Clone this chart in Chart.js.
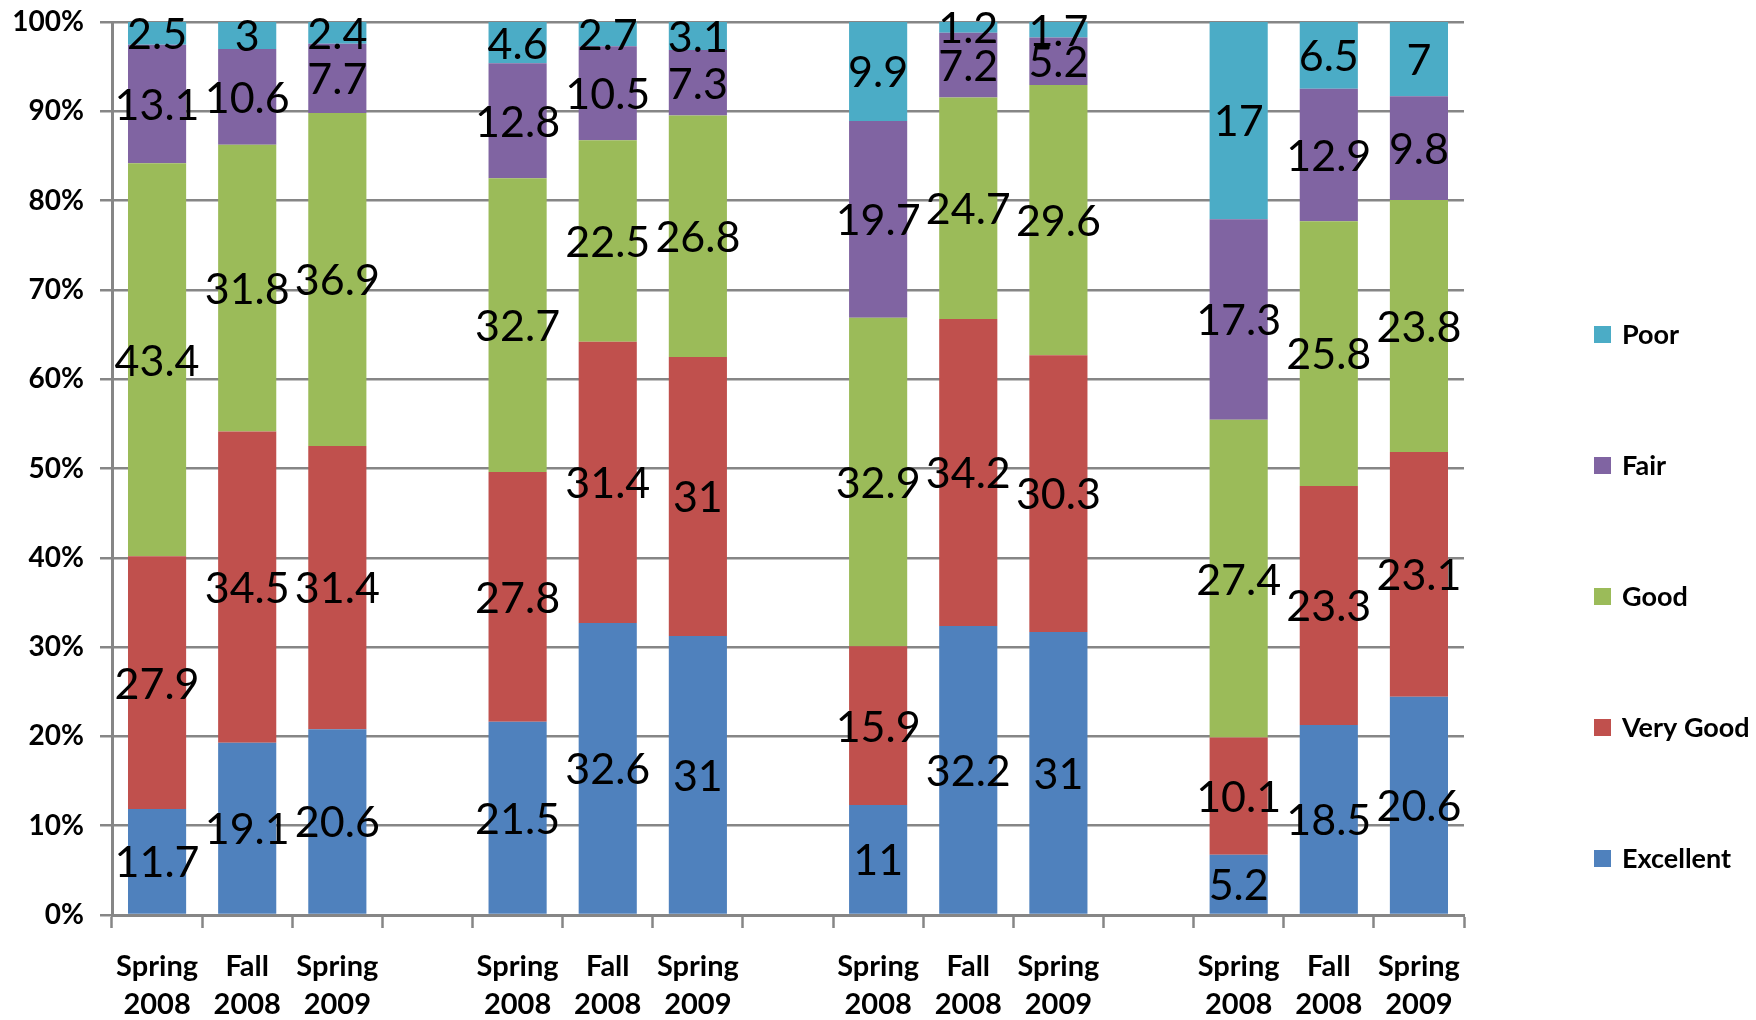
<!DOCTYPE html>
<html>
<head>
<meta charset="utf-8">
<script src="https://cdn.jsdelivr.net/npm/chart.js@4/dist/chart.umd.min.js"></script>
<style>
  html, body { margin: 0; padding: 0; background: #fff; }
  #wrap { width: 1756px; height: 1020px; position: relative; }
</style>
</head>
<body>
<div id="wrap"><canvas id="chart"></canvas></div>
<script>
// four groups of three terms, with an empty slot between groups
const terms = [
  ["Spring", "2008"], ["Fall", "2008"], ["Spring", "2009"], "",
  ["Spring", "2008"], ["Fall", "2008"], ["Spring", "2009"], "",
  ["Spring", "2008"], ["Fall", "2008"], ["Spring", "2009"], "",
  ["Spring", "2008"], ["Fall", "2008"], ["Spring", "2009"],
];

const excellent = [11.7, 19.1, 20.6, null, 21.5, 32.6, 31, null, 11, 32.2, 31, null, 5.2, 18.5, 20.6];
const veryGood  = [27.9, 34.5, 31.4, null, 27.8, 31.4, 31, null, 15.9, 34.2, 30.3, null, 10.1, 23.3, 23.1];
const good      = [43.4, 31.8, 36.9, null, 32.7, 22.5, 26.8, null, 32.9, 24.7, 29.6, null, 27.4, 25.8, 23.8];
const fair      = [13.1, 10.6, 7.7, null, 12.8, 10.5, 7.3, null, 19.7, 7.2, 5.2, null, 17.3, 12.9, 9.8];
const poor      = [2.5, 3, 2.4, null, 4.6, 2.7, 3.1, null, 9.9, 1.2, 1.7, null, 17, 6.5, 7];

const seriesNames = ["Excellent", "Very Good", "Good", "Fair", "Poor"];
const seriesValues = [excellent, veryGood, good, fair, poor];
const seriesColors = ["#4F81BD", "#C0504D", "#9BBB59", "#8064A2", "#4BACC6"];

const yTicks = [0, 10, 20, 30, 40, 50, 60, 70, 80, 90, 100];

// 100% stacked: each bar is scaled to its own total
const totals = terms.map((t, i) =>
  seriesValues.reduce((s, arr) => s + (arr[i] || 0), 0)
);

const datasets = seriesValues.map((arr, k) => ({
  label: seriesNames[k],
  backgroundColor: seriesColors[k],
  values: arr,
  data: arr.map((v, i) => (v == null ? null : (v / totals[i]) * 100)),
  barPercentage: 0.645,
  categoryPercentage: 1,
}));

const gridGray = "#868686";

const valueLabels = {
  id: "valueLabels",
  afterDatasetsDraw(chart) {
    const ctx = chart.ctx;
    ctx.save();
    ctx.font = "43px Lato";
    ctx.fillStyle = "#000";
    ctx.textAlign = "center";
    ctx.textBaseline = "middle";
    chart.data.datasets.forEach((ds, di) => {
      const meta = chart.getDatasetMeta(di);
      meta.data.forEach((bar, i) => {
        const v = ds.values[i];
        if (v == null) return;
        const { x, y, base } = bar.getProps(["x", "y", "base"], true);
        ctx.fillText(String(v), x, (y + base) / 2 + 2);
      });
    });
    ctx.restore();
  },
};

const sideLegend = {
  id: "sideLegend",
  afterDraw(chart) {
    const ctx = chart.ctx;
    const area = chart.chartArea;
    ctx.save();
    ctx.font = "bold 27px Lato";
    ctx.textBaseline = "middle";
    ctx.textAlign = "left";
    const x = area.right + 130;
    const items = chart.data.datasets.slice().reverse();
    items.forEach((ds, i) => {
      const y = area.bottom - 57 - (items.length - 1 - i) * 131;
      ctx.fillStyle = ds.backgroundColor;
      ctx.fillRect(x, y - 8, 17, 17);
      ctx.fillStyle = "#000";
      ctx.fillText(ds.label, x + 28, y + 1);
    });
    ctx.restore();
  },
};

new Chart(document.getElementById("chart"), {
  type: "bar",
  data: { labels: terms, datasets: datasets },
  plugins: [valueLabels, sideLegend],
  options: {
    responsive: true,
    maintainAspectRatio: false,
    animation: false,
    layout: { padding: { top: 22, right: 292, bottom: 0, left: 0 } },
    plugins: {
      legend: { display: false },
      tooltip: { enabled: false },
    },
    scales: {
      x: {
        stacked: true,
        grid: {
          offset: true,
          drawOnChartArea: false,
          drawTicks: true,
          tickLength: 13,
          tickColor: gridGray,
          tickWidth: 2.5,
        },
        border: { color: gridGray, width: 3 },
        ticks: {
          color: "#000",
          font: { family: "Lato", weight: "bold", size: 29, lineHeight: 1.3 },
          padding: 20,
          maxRotation: 0,
          autoSkip: false,
        },
        afterFit(scale) { scale.height = 105; },
      },
      y: {
        stacked: true,
        min: 0,
        max: 100,
        afterBuildTicks(scale) { scale.ticks = yTicks.map((v) => ({ value: v })); },
        grid: {
          color: gridGray,
          lineWidth: 2.5,
          drawTicks: true,
          tickLength: 12,
        },
        border: { color: gridGray, width: 3 },
        ticks: {
          color: "#000",
          font: { family: "Lato", weight: "bold", size: 28 },
          padding: 16,
          callback: (v) => v + "%",
        },
        afterFit(scale) {
          scale.width = 112;
          scale.paddingTop = 0;
          scale.paddingBottom = 0;
        },
      },
    },
  },
});
</script>
</body>
</html>
